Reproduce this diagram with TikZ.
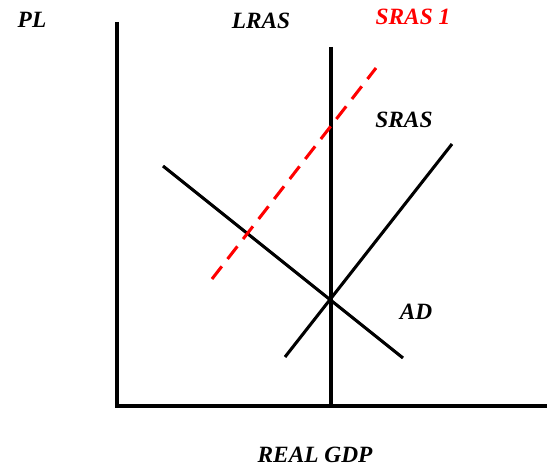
\documentclass[tikz,border=0pt]{standalone}
\usepackage{fontspec}
\setmainfont{Liberation Serif}
\usetikzlibrary{calc}
\definecolor{srasRed}{HTML}{FF0000}
\begin{document}
\begin{tikzpicture}[x=0.75pt,y=-0.75pt,
          lbl/.style={font=\fontsize{17.5}{17.5}\selectfont\bfseries\itshape, inner sep=0pt},
          axis/.style={line width=3pt},
          curve/.style={line width=2.3pt},
          every node/.style={align=center}]
        \useasboundingbox (0,0) rectangle (547,466);
        % axes
        \coordinate (top) at (117,22);
        \coordinate (origin) at (117,406);
        \coordinate (right) at (547,406);
        \draw[axis] (top) -- (origin) -- (right);
        % curves
        \coordinate (lrasT) at (331,47);
        \coordinate (lrasB) at (331,406);
        \coordinate (adT) at (163,166);
        \coordinate (adB) at (403,358);
        \coordinate (srasB) at (285,357);
        \coordinate (srasT) at (452,144);
        \coordinate (sras1B) at (212,279);
        \coordinate (sras1T) at (376,68);
        \draw[curve] (lrasT) -- (lrasB);
        \draw[curve] (adT) -- (adB);
        \draw[curve] (srasB) -- (srasT);
        \draw[curve,srasRed,dash pattern=on 12pt off 7pt] (sras1B) -- (sras1T);
        % labels
        \node[lbl] (pl) at (32,20) {PL};
        \node[lbl] (lras) at (261,21) {LRAS};
        \node[lbl,text=srasRed] (sras1) at (413,17) {SRAS 1};
        \node[lbl] (sras) at (404,120) {SRAS};
        \node[lbl] (ad) at (416,312) {AD};
        \node[lbl] (gdp) at (315,455) {REAL GDP};
      \end{tikzpicture}
\end{document}
